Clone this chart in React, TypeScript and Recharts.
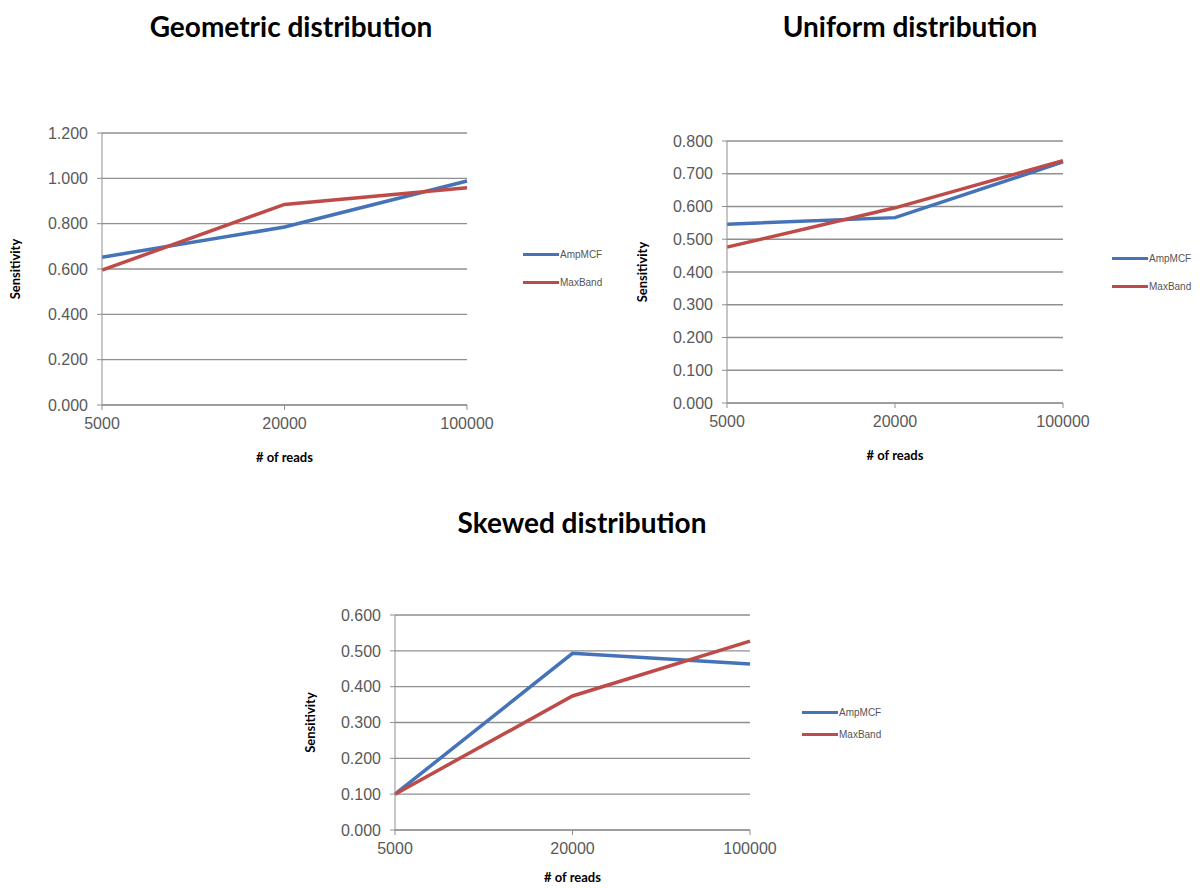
import * as React from "react";
import { LineChart, Line, XAxis, YAxis, CartesianGrid, Legend } from "recharts";

const readCounts = ["5000", "20000", "100000"];

const geometricAmpMCF = [0.652, 0.785, 0.988];
const geometricMaxBand = [0.595, 0.885, 0.958];

const uniformAmpMCF = [0.546, 0.566, 0.736];
const uniformMaxBand = [0.476, 0.596, 0.74];

const skewedAmpMCF = [0.1, 0.493, 0.463];
const skewedMaxBand = [0.1, 0.374, 0.527];

const geometricTicks = [0, 0.2, 0.4, 0.6, 0.8, 1.0, 1.2];
const uniformTicks = [0, 0.1, 0.2, 0.3, 0.4, 0.5, 0.6, 0.7, 0.8];
const skewedTicks = [0, 0.1, 0.2, 0.3, 0.4, 0.5, 0.6];

const BLUE = "#4573b7";
const RED = "#be4b48";
const GRID = "#8f8f8f";

function toRows(amp: number[], max: number[]) {
  return readCounts.map((reads, i) => ({ reads, AmpMCF: amp[i], MaxBand: max[i] }));
}

function LegendBox({ payload, rowHeight }: any) {
  return (
    <div>
      {(payload ?? []).map((p: any) => (
        <div key={p.value} style={{ display: "flex", alignItems: "center", height: rowHeight }}>
          <div style={{ width: 36, height: 3, background: p.color }} />
          <span style={{ fontFamily: "'Liberation Sans', Arial", fontSize: 10, color: "#555", marginLeft: 1 }}>
            {p.value}
          </span>
        </div>
      ))}
    </div>
  );
}

interface PanelProps {
  left: number;
  top: number;
  width: number;
  height: number;
  margin: { top: number; right: number; bottom: number; left: number };
  yWidth: number;
  xHeight: number;
  data: any[];
  ticks: number[];
  legendLeft: number;
  legendTop: number;
  legendRow: number;
}

function Panel(p: PanelProps) {
  const max = p.ticks[p.ticks.length - 1];
  return (
    <div style={{ position: "absolute", left: p.left, top: p.top }}>
      <LineChart width={p.width} height={p.height} data={p.data} margin={p.margin}>
        <CartesianGrid vertical={false} stroke={GRID} strokeWidth={1.3} />
        <XAxis
          dataKey="reads"
          interval={0}
          height={p.xHeight}
          stroke={GRID}
          tickSize={5}
          tickMargin={8}
          tick={{ fill: "#595959", fontSize: 16, fontFamily: "'Liberation Sans', Arial" }}
          label={{
            value: "# of reads",
            position: "insideBottom",
            offset: 3,
            style: { fontFamily: "Lato", fontWeight: 700, fontSize: 13, fill: "#000" },
          }}
        />
        <YAxis
          width={p.yWidth}
          domain={[0, max]}
          ticks={p.ticks}
          interval={0}
          stroke={GRID}
          tickSize={5}
          tickMargin={9}
          tickFormatter={(v: number) => v.toFixed(3)}
          tick={{ fill: "#595959", fontSize: 16, fontFamily: "'Liberation Sans', Arial" }}
          label={{
            value: "Sensitivity",
            angle: -90,
            position: "insideLeft",
            offset: 10,
            style: { textAnchor: "middle", fontFamily: "Lato", fontWeight: 700, fontSize: 13, fill: "#000" },
          }}
        />
        <Legend
          layout="vertical"
          align="center"
          verticalAlign="middle"
          wrapperStyle={{ left: p.legendLeft, top: p.legendTop, width: 100 }}
          content={(props: any) => <LegendBox payload={props.payload} rowHeight={p.legendRow} />}
        />
        <Line type="linear" dataKey="AmpMCF" stroke={BLUE} strokeWidth={3.5} dot={false} isAnimationActive={false} />
        <Line type="linear" dataKey="MaxBand" stroke={RED} strokeWidth={3.5} dot={false} isAnimationActive={false} />
      </LineChart>
    </div>
  );
}

const titleStyle: React.CSSProperties = {
  position: "absolute",
  fontFamily: "Lato",
  fontWeight: 700,
  fontSize: 28,
  lineHeight: "28px",
  color: "#000",
  whiteSpace: "nowrap",
  transform: "translateX(-50%)",
};

export default function App() {
  return (
    <div style={{ position: "absolute", left: 0, top: 0, width: 1200, height: 888, background: "#fff", overflow: "hidden" }}>
      <div style={{ ...titleStyle, left: 291, top: 12 }}>Geometric distribution</div>
      <div style={{ ...titleStyle, left: 910, top: 12 }}>Uniform distribution</div>
      <div style={{ ...titleStyle, left: 582, top: 508 }}>Skewed distribution</div>

      <Panel
        left={0}
        top={100}
        width={620}
        height={380}
        margin={{ top: 33, right: 153, bottom: 15, left: 5 }}
        yWidth={97}
        xHeight={60}
        data={toRows(geometricAmpMCF, geometricMaxBand)}
        ticks={geometricTicks}
        legendLeft={523}
        legendTop={140}
        legendRow={28}
      />
      <Panel
        left={620}
        top={100}
        width={580}
        height={380}
        margin={{ top: 41, right: 137, bottom: 17, left: 12 }}
        yWidth={95}
        xHeight={60}
        data={toRows(uniformAmpMCF, uniformMaxBand)}
        ticks={uniformTicks}
        legendLeft={492}
        legendTop={144}
        legendRow={28}
      />
      <Panel
        left={290}
        top={580}
        width={620}
        height={308}
        margin={{ top: 35, right: 160, bottom: 3, left: 10 }}
        yWidth={95}
        xHeight={55}
        data={toRows(skewedAmpMCF, skewedMaxBand)}
        ticks={skewedTicks}
        legendLeft={512}
        legendTop={121}
        legendRow={22}
      />
    </div>
  );
}
